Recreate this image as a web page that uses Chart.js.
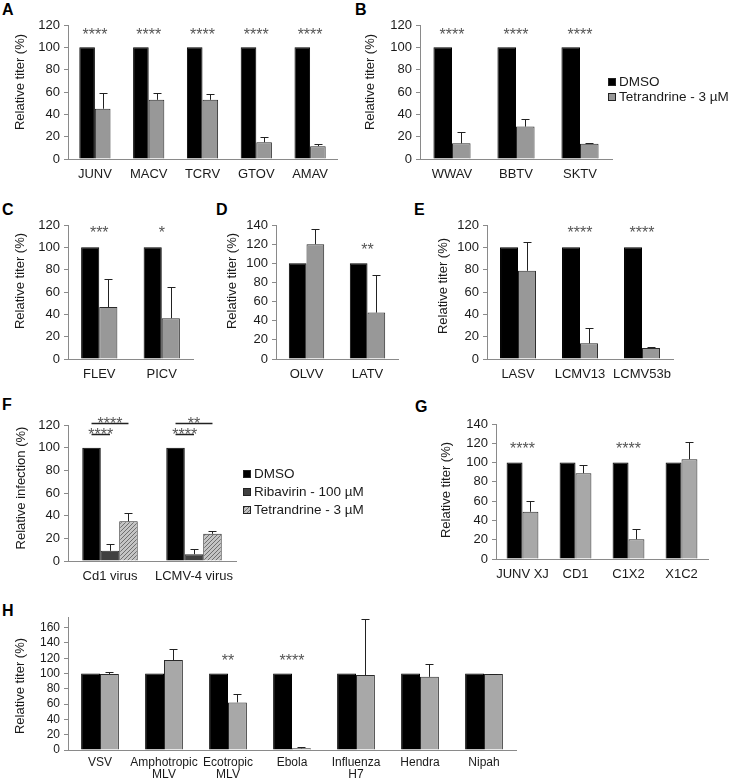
<!DOCTYPE html>
<html>
<head>
<meta charset="utf-8">
<script src="https://cdn.jsdelivr.net/npm/chart.js@4/dist/chart.umd.min.js"></script>
<style>
  body { margin: 0; background: #fff; width: 733px; height: 781px; position: relative; overflow: hidden;
         font-family: "Liberation Sans", Arial, sans-serif; }
  canvas { position: absolute; left: 0; top: 0; }
  .panel-letter { position: absolute; font-weight: bold; font-size: 16px; line-height: 16px; color: #000; }
</style>
</head>
<body>
<div class="panel-letter" style="left:2px;top:2px">A</div>
<div class="panel-letter" style="left:355px;top:2px">B</div>
<div class="panel-letter" style="left:2px;top:202px">C</div>
<div class="panel-letter" style="left:216px;top:202px">D</div>
<div class="panel-letter" style="left:414px;top:202px">E</div>
<div class="panel-letter" style="left:2px;top:397px">F</div>
<div class="panel-letter" style="left:415px;top:399px">G</div>
<div class="panel-letter" style="left:2px;top:603px">H</div>

<script>
// 数据 (% of DMSO control)
const aLabels = ['JUNV', 'MACV', 'TCRV', 'GTOV', 'AMAV'];
const aDmso = [100, 100, 100, 100, 100];
const aTet = [45, 53, 53, 15, 11.5];
const aTetErr = [14, 6, 5, 4.5, 2];
const aStars = ['****', '****', '****', '****', '****'];

const bLabels = ['WWAV', 'BBTV', 'SKTV'];
const bDmso = [100, 100, 100];
const bTet = [14, 29, 13.6];
const bTetErr = [10, 6.5, 1];
const bStars = ['****', '****', '****'];

const cLabels = ['FLEV', 'PICV'];
const cDmso = [100, 100];
const cTet = [46.5, 36.5];
const cTetErr = [25, 28];
const cStars = ['***', '*'];

const dLabels = ['OLVV', 'LATV'];
const dDmso = [100, 100];
const dTet = [120, 48.5];
const dTetErr = [15.5, 39];
const dStars = ['', '**'];

const eLabels = ['LASV', 'LCMV13', 'LCMV53b'];
const eDmso = [100, 100, 100];
const eTet = [79, 14, 9.8];
const eTetErr = [26, 13.7, 1.3];
const eStars = ['', '****', '****'];

const fLabels = ['Cd1 virus', 'LCMV-4 virus'];
const fDmso = [100, 100];
const fRiba = [9, 6];
const fRibaErr = [5.7, 5];
const fTet = [35, 24];
const fTetErr = [7.6, 2.7];
// [category, from dataset, to dataset, text, level]
const fBrackets = [
  [0, 0, 2, '****', 121.8], [0, 0, 1, '****', 112.1],
  [1, 0, 2, '**', 121.8], [1, 0, 1, '****', 112.1]
];

const gLabels = ['JUNV XJ', 'CD1', 'C1X2', 'X1C2'];
const gDmso = [100, 100, 100, 100];
const gTet = [49, 89, 20.5, 103.5];
const gTetErr = [11, 8, 10.5, 17.5];
const gStars = ['****', '', '****', ''];

const hLabels = ['VSV', ['Amphotropic', 'MLV'], ['Ecotropic', 'MLV'], 'Ebola', ['Influenza', 'H7'], 'Hendra', 'Nipah'];
const hDmso = [100, 100, 100, 100, 100, 100, 100];
const hTet = [99.4, 117.7, 62.3, 2.2, 98, 95.7, 99.3];
const hTetErr = [3, 14.3, 10.5, 2.2, 74, 16.3, 0.5];
const hStars = ['', '', '**', '****', '', '', ''];

const LBL_DMSO = 'DMSO';
const LBL_TET = 'Tetrandrine - 3 µM';
const LBL_RIBA = 'Ribavirin - 100 µM';

// 样式
const PAGE_W = 733, PAGE_H = 781;
const FONT = '"Liberation Sans", Arial, sans-serif';
const NARROW = '"Liberation Sans Narrow", "Liberation Sans", Arial, sans-serif';
const AXIS = '#8a8a8a';
const TXT = '#1a1a1a';
const GREY = '#989898';
const GREY_LIGHT = '#a8a8a8';
const DARK = '#404040';

function hatch() {
  const c = document.createElement('canvas');
  c.width = 4; c.height = 4;
  const g = c.getContext('2d');
  g.fillStyle = '#c4c4c4';
  g.fillRect(0, 0, 4, 4);
  g.strokeStyle = '#6e6e6e';
  g.lineWidth = 1;
  g.beginPath();
  g.moveTo(0, 4); g.lineTo(4, 0);
  g.moveTo(-1, 1); g.lineTo(1, -1);
  g.moveTo(3, 5); g.lineTo(5, 3);
  g.stroke();
  return g.createPattern(c, 'repeat');
}

// 装饰插件: error bars, stars, brackets, legend, y title
const deco = {
  id: 'deco',
  afterDatasetsDraw(chart, args, o) {
    const ctx = chart.ctx, xs = chart.scales.x, ys = chart.scales.y;
    ctx.save();

    chart.data.datasets.forEach((ds, di) => {
      if (!ds.errors) return;
      chart.getDatasetMeta(di).data.forEach((bar, i) => {
        const e = ds.errors[i];
        if (!e) return;
        const x = Math.round(bar.x) + 0.5;
        const yTop = Math.round(ys.getPixelForValue(ds.data[i] + e)) + 0.5;
        ctx.strokeStyle = '#222';
        ctx.lineWidth = 1;
        ctx.beginPath();
        ctx.moveTo(x, bar.y);
        ctx.lineTo(x, yTop);
        ctx.moveTo(x - 4, yTop);
        ctx.lineTo(x + 4, yTop);
        ctx.stroke();
      });
    });

    ctx.fillStyle = '#555';
    ctx.font = '16px ' + FONT;
    ctx.textAlign = 'center';
    ctx.textBaseline = 'alphabetic';
    if (o.stars) {
      o.stars.forEach((s, i) => {
        if (!s) return;
        ctx.fillText(s, xs.getPixelForValue(i), ys.getPixelForValue(o.starLevel) + 9);
      });
    }

    if (o.brackets) {
      o.brackets.forEach(([cat, d1, d2, text, level]) => {
        const xa = chart.getDatasetMeta(d1).data[cat].x;
        const xb = chart.getDatasetMeta(d2).data[cat].x;
        const y = Math.round(ys.getPixelForValue(level)) + 0.5;
        ctx.strokeStyle = '#222';
        ctx.lineWidth = 1.5;
        ctx.beginPath();
        ctx.moveTo(xa, y);
        ctx.lineTo(xb, y);
        ctx.stroke();
        ctx.fillText(text, (xa + xb) / 2, y + 5);
      });
    }

    if (o.legend) {
      ctx.font = o.legend.size + 'px ' + FONT;
      ctx.textAlign = 'left';
      ctx.textBaseline = 'middle';
      chart.data.datasets.forEach((ds, di) => {
        const y = o.legend.y + di * o.legend.dy;
        ctx.fillStyle = ds.backgroundColor;
        ctx.fillRect(o.legend.x, y - 4, 8, 8);
        ctx.strokeStyle = '#222';
        ctx.lineWidth = 1;
        ctx.strokeRect(o.legend.x + 0.5, y - 3.5, 7, 7);
        ctx.fillStyle = TXT;
        ctx.fillText(ds.label, o.legend.x + 11, y);
      });
    }

    if (o.title) {
      ctx.translate(o.title.x, o.title.y);
      ctx.rotate(-Math.PI / 2);
      ctx.font = '13px ' + FONT;
      ctx.fillStyle = TXT;
      ctx.textAlign = 'center';
      ctx.textBaseline = 'middle';
      ctx.fillText(o.title.text, 0, 0);
    }
    ctx.restore();
  }
};

function makePanel(p) {
  const canvas = document.createElement('canvas');
  canvas.width = PAGE_W;
  canvas.height = PAGE_H;
  document.body.appendChild(canvas);
  const YW = 40;
  const XH = Math.min(40, PAGE_H - p.bottom);
  const tickFont = p.narrow
    ? { family: NARROW, size: 12, lineHeight: 1 }
    : { family: FONT, size: 13, lineHeight: 1.2 };
  new Chart(canvas, {
    type: 'bar',
    data: { labels: p.labels, datasets: p.datasets },
    options: {
      responsive: false,
      animation: false,
      events: [],
      layout: { padding: { left: p.x0 - YW, right: PAGE_W - p.x1, top: p.top, bottom: PAGE_H - p.bottom - XH } },
      datasets: { bar: { categoryPercentage: p.catPct || 0.58, barPercentage: 1 } },
      plugins: {
        legend: { display: false },
        tooltip: { enabled: false },
        deco: { stars: p.stars, starLevel: p.starLevel, brackets: p.brackets, legend: p.legend, title: p.title }
      },
      scales: {
        x: {
          grid: { display: false, drawTicks: false },
          border: { color: AXIS, width: 1 },
          ticks: { color: TXT, font: tickFont, padding: p.narrow ? 6.5 : 7.5, autoSkip: false, maxRotation: 0 },
          afterFit(s) { s.height = XH; }
        },
        y: {
          min: 0,
          max: p.max,
          grid: { display: true, drawOnChartArea: false, drawTicks: true, tickLength: 4, color: AXIS },
          border: { color: AXIS, width: 1 },
          ticks: { stepSize: 20, includeBounds: false, padding: 4, color: TXT, font: tickFont },
          afterFit(s) { s.width = YW; }
        }
      }
    },
    plugins: [deco]
  });
}

function bars(color, data, label, errors) {
  return { label: label, data: data, errors: errors, backgroundColor: color,
           borderColor: color === '#000' ? '#000' : '#2a2a2a', borderWidth: 1 };
}

makePanel({
  labels: aLabels, x0: 68, x1: 337, top: 25, bottom: 159, max: 120,
  datasets: [bars('#000', aDmso, LBL_DMSO), bars(GREY, aTet, LBL_TET, aTetErr)],
  stars: aStars, starLevel: 115,
  title: { text: 'Relative titer (%)', x: 20, y: 82 }
});
makePanel({
  labels: bLabels, x0: 420, x1: 612, top: 25, bottom: 159, max: 120,
  datasets: [bars('#000', bDmso, LBL_DMSO), bars(GREY, bTet, LBL_TET, bTetErr)],
  stars: bStars, starLevel: 115,
  legend: { x: 608, y: 82, dy: 15, size: 13.5 },
  title: { text: 'Relative titer (%)', x: 370, y: 82 }
});
makePanel({
  labels: cLabels, x0: 68, x1: 193, top: 225, bottom: 359, max: 120,
  datasets: [bars('#000', cDmso, LBL_DMSO), bars(GREY, cTet, LBL_TET, cTetErr)],
  stars: cStars, starLevel: 116,
  title: { text: 'Relative titer (%)', x: 20, y: 281 }
});
makePanel({
  labels: dLabels, x0: 276, x1: 398, top: 225, bottom: 359, max: 140,
  datasets: [bars('#000', dDmso, LBL_DMSO), bars(GREY, dTet, LBL_TET, dTetErr)],
  stars: dStars, starLevel: 118.4,
  title: { text: 'Relative titer (%)', x: 232, y: 281 }
});
makePanel({
  labels: eLabels, x0: 487, x1: 673, top: 225, bottom: 359, max: 120,
  datasets: [bars('#000', eDmso, LBL_DMSO), bars(GREY, eTet, LBL_TET, eTetErr)],
  stars: eStars, starLevel: 116,
  title: { text: 'Relative titer (%)', x: 443, y: 286 }
});
makePanel({
  labels: fLabels, x0: 68, x1: 236, top: 425, bottom: 561, max: 120, catPct: 0.66,
  datasets: [bars('#000', fDmso, LBL_DMSO), bars(DARK, fRiba, LBL_RIBA, fRibaErr), bars(hatch(), fTet, LBL_TET, fTetErr)],
  brackets: fBrackets,
  legend: { x: 243, y: 474, dy: 18, size: 13.5 },
  title: { text: 'Relative infection (%)', x: 21, y: 488 }
});
makePanel({
  labels: gLabels, x0: 496, x1: 708, top: 424, bottom: 559, max: 140, catPct: 0.6,
  datasets: [bars('#000', gDmso, LBL_DMSO), bars(GREY_LIGHT, gTet, LBL_TET, gTetErr)],
  stars: gStars, starLevel: 118,
  title: { text: 'Relative titer (%)', x: 446, y: 490 }
});
makePanel({
  labels: hLabels, x0: 68, x1: 516, top: 617, bottom: 750, max: 174, narrow: true, catPct: 0.59,
  datasets: [bars('#000', hDmso, LBL_DMSO), bars(GREY_LIGHT, hTet, LBL_TET, hTetErr)],
  stars: hStars, starLevel: 122,
  title: { text: 'Relative titer (%)', x: 20, y: 686 }
});
</script>
</body>
</html>
